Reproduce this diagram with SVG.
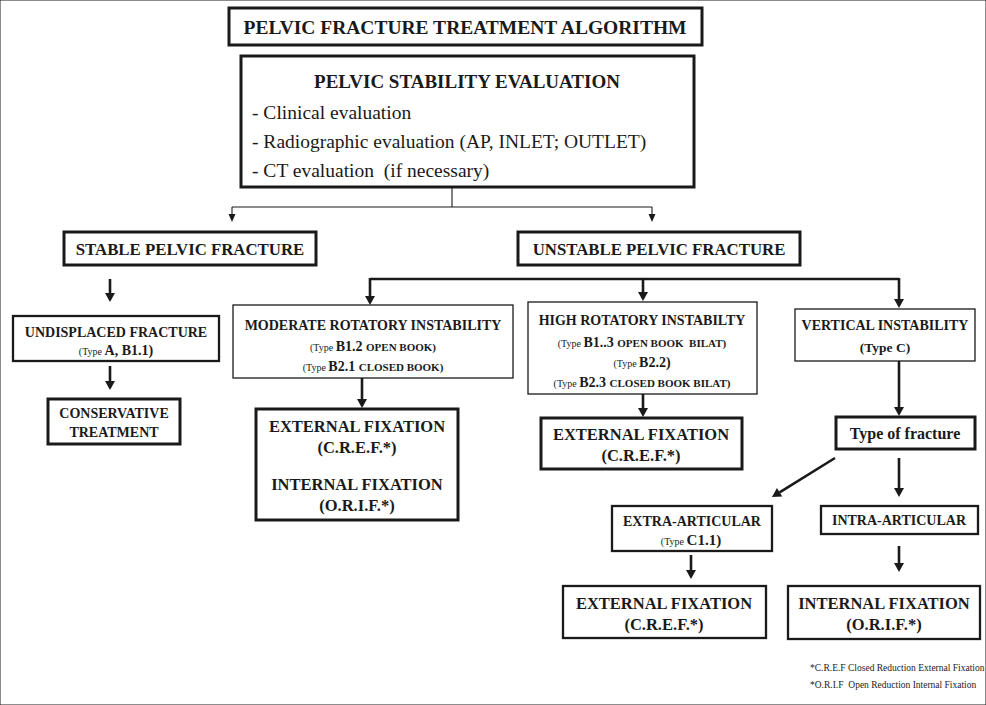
<svg xmlns="http://www.w3.org/2000/svg" width="986" height="705" viewBox="0 0 986 705">
<style>
text{font-family:"Liberation Serif","Times New Roman",serif;fill:#1a1a1a;white-space:pre}
.b{font-weight:bold}
.c{text-anchor:middle}
rect{fill:#fff;stroke:#1a1a1a}
.t3{stroke-width:3}
.t2{stroke-width:2.3}
.t1{stroke-width:1.3}
.con path{fill:none;stroke:#1a1a1a}
.thick{stroke-width:2.6}
.thin{stroke-width:1.1}
.sm{font-size:10px;font-weight:normal}
.sc{font-size:11px;font-weight:bold}
</style>
<defs>
<marker id="ah" markerUnits="userSpaceOnUse" markerWidth="10" markerHeight="10" refX="0" refY="5" orient="auto" overflow="visible"><path d="M0,0 L9,5 L0,10 Z" fill="#1a1a1a"/></marker>
<marker id="ahs" markerUnits="userSpaceOnUse" markerWidth="8" markerHeight="8" refX="0" refY="3.5" orient="auto" overflow="visible"><path d="M0,0 L8,3.5 L0,7 Z" fill="#1a1a1a"/></marker>
</defs>
<rect width="986" height="705" fill="#fff" stroke="none"/>

<g class="con">
<path class="thin" d="M452,187 V207 M232,207 H652"/>
<path class="thin" d="M232,207 V214" marker-end="url(#ahs)"/>
<path class="thin" d="M652,207 V214" marker-end="url(#ahs)"/>
<path class="thick" d="M110,279 V293" marker-end="url(#ah)"/>
<path class="thick" d="M110,366 V381" marker-end="url(#ah)"/>
<path class="thick" d="M370,279 H899"/>
<path class="thick" d="M370,278 V296" marker-end="url(#ah)"/>
<path class="thick" d="M643,279 V292" marker-end="url(#ah)"/>
<path class="thick" d="M899,278 V299" marker-end="url(#ah)"/>
<path class="thick" d="M362,378 V399" marker-end="url(#ah)"/>
<path class="thick" d="M643,394 V408" marker-end="url(#ah)"/>
<path class="thick" d="M899,361 V407" marker-end="url(#ah)"/>
<path class="thick" d="M835,458 L779.6,492.3" marker-end="url(#ah)"/>
<path class="thick" d="M899,458 V488" marker-end="url(#ah)"/>
<path class="thick" d="M691,555 V570" marker-end="url(#ah)"/>
<path class="thick" d="M899,546 V563" marker-end="url(#ah)"/>
</g>

<g id="title">
<rect class="t3" x="229" y="8" width="473" height="37"/>
<text class="b c" x="465" y="34" font-size="19.5">PELVIC FRACTURE TREATMENT ALGORITHM</text>
</g>

<g id="evaluation">
<rect class="t3" x="241" y="56" width="453" height="131"/>
<text class="b c" x="467" y="88" font-size="19">PELVIC STABILITY EVALUATION</text>
<text x="252" y="119" font-size="19.5">- Clinical evaluation</text>
<text x="252" y="148" font-size="19.5">- Radiographic evaluation (AP, INLET; OUTLET)</text>
<text x="252" y="177" font-size="19.5">- CT evaluation  (if necessary)</text>
</g>

<g id="stable">
<rect class="t3" x="64" y="232" width="252" height="33"/>
<text class="b c" x="190" y="255" font-size="16.8">STABLE PELVIC FRACTURE</text>
</g>

<g id="unstable">
<rect class="t3" x="518" y="232" width="282" height="33"/>
<text class="b c" x="659" y="255" font-size="16.8">UNSTABLE PELVIC FRACTURE</text>
</g>

<g id="undisplaced">
<rect class="t2" x="13" y="316" width="206" height="45"/>
<text class="b c" x="116" y="337" font-size="14">UNDISPLACED FRACTURE</text>
<text class="b c" x="116" y="355" font-size="14"><tspan class="sm">(Type </tspan>A, B1.1)</text>
</g>

<g id="conservative">
<rect class="t3" x="48" y="399" width="132" height="45"/>
<text class="b c" x="114" y="418" font-size="14">CONSERVATIVE</text>
<text class="b c" x="114" y="437" font-size="14">TREATMENT</text>
</g>

<g id="moderate">
<rect class="t1" x="233" y="305" width="280" height="73"/>
<text class="b c" x="373" y="330" font-size="14">MODERATE ROTATORY INSTABILITY</text>
<text class="b c" x="373" y="351" font-size="14"><tspan class="sm">(Type </tspan>B1.2 <tspan class="sc">OPEN BOOK)</tspan></text>
<text class="b c" x="373" y="371" font-size="14"><tspan class="sm">(Type </tspan>B2.1 <tspan class="sc">CLOSED BOOK)</tspan></text>
</g>

<g id="ext-int-fixation">
<rect class="t3" x="256" y="409" width="202" height="111"/>
<text class="b c" x="357" y="432" font-size="16.5">EXTERNAL FIXATION</text>
<text class="b c" x="357" y="453" font-size="16.5">(C.R.E.F.*)</text>
<text class="b c" x="357" y="490" font-size="16.5">INTERNAL FIXATION</text>
<text class="b c" x="357" y="511" font-size="16.5">(O.R.I.F.*)</text>
</g>

<g id="high">
<rect class="t1" x="528" y="302" width="229" height="92"/>
<text class="b c" x="642" y="325" font-size="14">HIGH ROTATORY INSTABILTY</text>
<text class="b c" x="642" y="347" font-size="14"><tspan class="sm">(Type </tspan>B1..3 <tspan class="sc">OPEN BOOK  BILAT)</tspan></text>
<text class="b c" x="642" y="367" font-size="14"><tspan class="sm">(Type </tspan>B2.2)</text>
<text class="b c" x="642" y="387" font-size="14"><tspan class="sm">(Type </tspan>B2.3 <tspan class="sc">CLOSED BOOK BILAT)</tspan></text>
</g>

<g id="ext-fixation-high">
<rect class="t3" x="541" y="418" width="201" height="51"/>
<text class="b c" x="641" y="440" font-size="16.5">EXTERNAL FIXATION</text>
<text class="b c" x="641" y="461" font-size="16.5">(C.R.E.F.*)</text>
</g>

<g id="vertical">
<rect class="t1" x="795" y="309" width="180" height="52"/>
<text class="b c" x="885" y="330" font-size="14">VERTICAL INSTABILITY</text>
<text class="b c" x="885" y="352" font-size="13.5">(Type C)</text>
</g>

<g id="type-of-fracture">
<rect class="t3" x="836" y="417" width="139" height="32"/>
<text class="b c" x="905" y="439" font-size="16">Type of fracture</text>
</g>

<g id="extra-articular">
<rect class="t2" x="612" y="506" width="160" height="45"/>
<text class="b c" x="692" y="526" font-size="14">EXTRA-ARTICULAR</text>
<text class="b c" x="691" y="545" font-size="15"><tspan class="sm">(Type </tspan>C1.1)</text>
</g>

<g id="intra-articular">
<rect class="t2" x="821" y="506" width="157" height="28"/>
<text class="b c" x="899" y="525" font-size="14">INTRA-ARTICULAR</text>
</g>

<g id="ext-fixation-bottom">
<rect class="t2" x="563" y="586" width="203" height="52"/>
<text class="b c" x="664" y="609" font-size="16.5">EXTERNAL FIXATION</text>
<text class="b c" x="664" y="630" font-size="16.5">(C.R.E.F.*)</text>
</g>

<g id="int-fixation-bottom">
<rect class="t2" x="788" y="586" width="192" height="53"/>
<text class="b c" x="884" y="609" font-size="16.5">INTERNAL FIXATION</text>
<text class="b c" x="884" y="630" font-size="16.5">(O.R.I.F.*)</text>
</g>

<g id="footnotes">
<text x="810" y="671" font-size="9.5">*C.R.E.F Closed Reduction External Fixation</text>
<text x="810" y="688" font-size="9.5">*O.R.I.F  Open Reduction Internal Fixation</text>
</g>
</svg>
